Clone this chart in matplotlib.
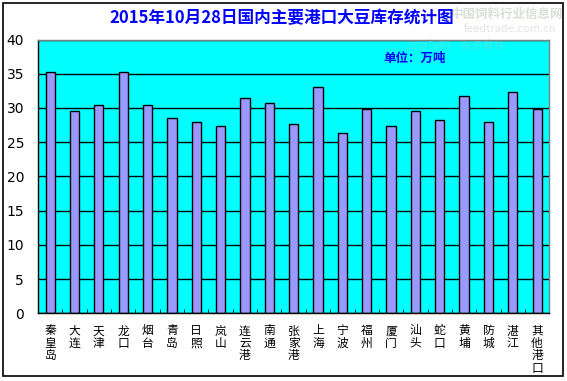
import matplotlib.pyplot as plt
from matplotlib.patches import Rectangle

plt.rcParams['font.family'] = ['Noto Sans CJK SC', 'DejaVu Sans']

ports = ["秦皇岛", "大连", "天津", "龙口", "烟台", "青岛", "日照", "岚山", "连云港",
         "南通", "张家港", "上海", "宁波", "福州", "厦门", "汕头", "蛇口", "黄埔",
         "防城", "湛江", "其他港口"]
stock = [35.2, 29.6, 30.4, 35.3, 30.5, 28.5, 28.0, 27.3, 31.5,
         30.7, 27.6, 33.1, 26.4, 29.8, 27.3, 29.5, 28.2, 31.8,
         28.0, 32.3, 29.8]
yticks = [0, 5, 10, 15, 20, 25, 30, 35, 40]

title = "2015年10月28日国内主要港口大豆库存统计图"
unit = "单位：万吨"

fig = plt.figure(figsize=(5.67, 3.81), dpi=100)
fig.patch.set_facecolor("white")

# outer chart border
fig.patches.append(Rectangle((3 / 567, 1 - 376 / 381), 560 / 567, 373 / 381,
                             transform=fig.transFigure, fill=False,
                             edgecolor="black", linewidth=1.2))

ax = fig.add_axes([38 / 567, 1 - 313.3 / 381, 511.3 / 567, 273.8 / 381])
ax.set_facecolor("#00FFFF")

x = list(range(len(ports)))
ax.bar(x, stock, width=0.38, color="#9999FF", edgecolor="black", linewidth=1.0, zorder=3)

ax.set_xlim(-0.5, len(ports) - 0.5)
ax.set_ylim(0, 40)
ax.set_yticks(yticks)
ax.set_yticklabels([str(v) for v in yticks], fontsize=10, family="DejaVu Sans")
ax.tick_params(axis="y", length=0, pad=10)
ax.grid(True, axis="y", color="black", linewidth=1.0, zorder=1)

ax.set_xticks(x)
ax.set_xticklabels(["\n".join(p) for p in ports], fontsize=8.5, va="top", linespacing=0.95)
ax.tick_params(axis="x", which="major", length=0, pad=8)
ax.set_xticks([i - 0.5 for i in range(len(ports) + 1)], minor=True)
ax.tick_params(axis="x", which="minor", direction="in", length=3, color="black")

ax.spines["top"].set_color("#808080")
ax.spines["right"].set_color("#808080")
ax.spines["left"].set_color("black")
ax.spines["bottom"].set_color("black")
for s in ax.spines.values():
    s.set_linewidth(1.0)
    s.set_zorder(4)

# faint watermarks
fig.text(507 / 567, 1 - 14 / 381, "中国饲料行业信息网", fontsize=9, color="#d8e0d8",
         ha="center", va="center", fontweight="bold")
fig.text(510 / 567, 1 - 29 / 381, "feedtrade.com.cn", fontsize=8, color="#e4e4e4",
         ha="center", va="center")
ax.text(455 / 567, 1 - 45 / 381, "立足饲料    服务畜牧", transform=fig.transFigure,
        fontsize=8, color="#40E8E8", ha="center", va="center", style="italic", zorder=2)

fig.text(282 / 567, 1 - 18 / 381, title, fontsize=12, color="#0000FF",
         ha="center", va="center", fontweight="bold")
ax.text(415 / 567, 1 - 58 / 381, unit, transform=fig.transFigure, fontsize=9,
        color="#0000FF", ha="center", va="center", fontweight="bold", zorder=5)

fig.savefig("out.png", dpi=100)
